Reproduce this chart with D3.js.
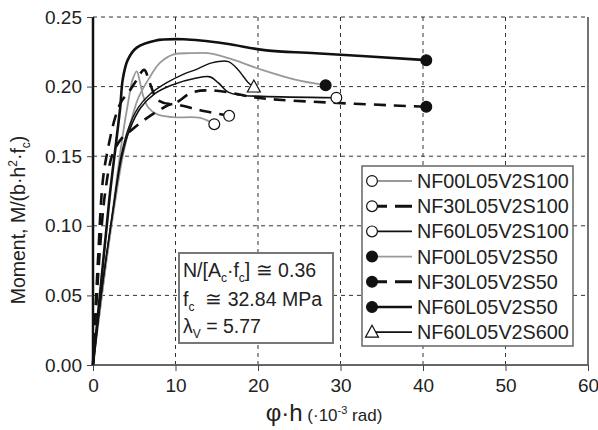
<!DOCTYPE html>
<html><head><meta charset="utf-8">
<script src="https://cdn.jsdelivr.net/npm/d3@7"></script>
<style>body{margin:0;background:#fff}svg{display:block}text{font-family:"Liberation Sans",Arial,sans-serif;fill:#222}</style>
</head><body><svg id="c" width="598" height="430"></svg>
<script>
// ---- data ----
const xTicks = [0,10,20,30,40,50,60];
const yTicks = [0.00,0.05,0.10,0.15,0.20,0.25];
const seriesNames = ["NF00L05V2S100","NF30L05V2S100","NF60L05V2S100","NF00L05V2S50","NF30L05V2S50","NF60L05V2S50","NF60L05V2S600"];
const nf00s100 = [[0,0],[1.5,0.07],[2.8,0.13],[3.6,0.165],[4.3,0.19],[4.8,0.205],[5.3,0.211],[5.7,0.203],[6.1,0.193],[6.7,0.185],[7.8,0.18],[9.7,0.178],[13,0.1775],[14.7,0.173]];
const nf30s100 = [[0,0],[0.8,0.08],[1.5,0.125],[2.4,0.152],[3.5,0.163],[4.5,0.168],[6.2,0.176],[8,0.183],[9.6,0.1875],[11,0.186],[13,0.183],[16.5,0.179]];
const nf60s100 = [[0,0],[1.2,0.06],[2.4,0.11],[3.5,0.15],[4.5,0.17],[5.8,0.185],[7.5,0.195],[9.5,0.201],[12.4,0.206],[14.2,0.207],[15.2,0.2026],[16.4,0.196],[17.6,0.194],[20.5,0.193],[29.5,0.192]];
const nf00s50 = [[0,0],[1.3,0.06],[2.5,0.11],[3.6,0.15],[4.6,0.175],[5.5,0.192],[6.7,0.205],[8.1,0.217],[9.7,0.223],[11.8,0.224],[13.9,0.224],[16.4,0.2205],[20.5,0.212],[24.5,0.205],[28.2,0.201]];
const nf30s50 = [[0,0],[0.6,0.075],[1.2,0.133],[1.8,0.155],[2.7,0.178],[3.5,0.19],[4.2,0.195],[5.1,0.203],[6.2,0.212],[6.8,0.204],[7.3,0.196],[7.7,0.191],[9.6,0.1875],[12.1,0.196],[15,0.197],[19.9,0.192],[23.9,0.19],[40.4,0.1855]];
const nf60s50 = [[0,0],[1.0,0.06],[2.0,0.12],[2.8,0.16],[3.3,0.185],[3.6,0.205],[4.2,0.219],[5.3,0.228],[7.5,0.233],[11,0.234],[16,0.231],[21,0.226],[27,0.224],[40.4,0.219]];
const nf60s600 = [[0,0],[1.2,0.06],[2.4,0.11],[3.4,0.15],[4.3,0.17],[5.5,0.185],[7,0.195],[9,0.203],[11,0.209],[12.4,0.212],[14.4,0.217],[16.4,0.218],[17.6,0.212],[18.8,0.203],[19.5,0.1997]];
const seriesData = [nf00s100,nf30s100,nf60s100,nf00s50,nf30s50,nf60s50,nf60s600];
const seriesColor = ["#999","#111","#111","#999","#111","#111","#111"];
const seriesWidth = [1.8,2.6,1.6,1.8,2.6,2.6,1.4];
const seriesDash = [null,"12,8",null,null,"12,8",null,null];
const seriesMarker = ["open","open","open","filled","filled","filled","triangle"];

const svg = d3.select("#c");
const x = d3.scaleLinear().domain([0,60]).range([93,588]);
const y = d3.scaleLinear().domain([0,0.25]).range([365,17]);

// grid
const g = svg.append("g");
g.selectAll(".vg").data(xTicks.filter(d=>d>0&&d<60)).enter().append("line")
 .attr("x1",d=>x(d)).attr("x2",d=>x(d)).attr("y1",y(0)).attr("y2",y(0.25))
 .attr("stroke","#333").attr("stroke-width",1).attr("stroke-dasharray","4,4");
g.selectAll(".hg").data(yTicks.filter(d=>d>0)).enter().append("line")
 .attr("x1",x(0)).attr("x2",x(60)).attr("y1",d=>y(d)).attr("y2",d=>y(d))
 .attr("stroke","#333").attr("stroke-width",1).attr("stroke-dasharray","4,4");

// curves
const line = d3.line().x(d=>x(d[0])).y(d=>y(d[1])).curve(d3.curveCatmullRom.alpha(0.5));
const order = [0,3,1,4,2,6,5];
order.forEach(i=>{
  svg.append("path").attr("d",line(seriesData[i])).attr("fill","none")
   .attr("stroke",seriesColor[i]).attr("stroke-width",seriesWidth[i])
   .attr("stroke-dasharray",seriesDash[i]).attr("stroke-linejoin","round");
});
function marker(sel,type,cx,cy){
  if(type==="triangle"){
    sel.append("path").attr("d",`M${cx},${cy-7}L${cx+6.5},${cy+5}L${cx-6.5},${cy+5}Z`)
     .attr("fill","#fff").attr("stroke","#111").attr("stroke-width",1.2);
  } else {
    sel.append("circle").attr("cx",cx).attr("cy",cy).attr("r",5.4)
     .attr("fill",type==="filled"?"#111":"#fff").attr("stroke","#111").attr("stroke-width",1.2);
  }
}
seriesData.forEach((s,i)=>{
  const p = s[s.length-1];
  marker(svg,seriesMarker[i],x(p[0]),y(p[1]));
});

// axes frame
svg.append("line").attr("x1",x(60)).attr("x2",x(60)).attr("y1",y(0)).attr("y2",y(0.25)).attr("stroke","#444").attr("stroke-width",1.5);
svg.append("line").attr("x1",x(0)).attr("x2",x(60)).attr("y1",y(0)).attr("y2",y(0)).attr("stroke","#666").attr("stroke-width",2);
svg.append("line").attr("x1",x(0)).attr("x2",x(0)).attr("y1",y(0)+1).attr("y2",y(0.25)).attr("stroke","#111").attr("stroke-width",2.5);

const xa = svg.append("g").attr("transform",`translate(0,${y(0)})`)
 .call(d3.axisBottom(x).tickValues(xTicks).tickSize(6).tickPadding(8).tickFormat(d3.format("d")));
xa.select(".domain").remove();
xa.selectAll("line").attr("stroke","#444");
xa.selectAll("text").style("font-size","19px").attr("fill","#222");
const ya = svg.append("g").attr("transform",`translate(${x(0)},0)`)
 .call(d3.axisLeft(y).tickValues(yTicks).tickSize(6).tickPadding(5).tickFormat(d3.format(".2f")));
ya.select(".domain").remove();
ya.selectAll("line").attr("stroke","#444");
ya.selectAll("text").style("font-size","19px").attr("fill","#222");

// axis titles
const yt = svg.append("text").attr("transform","translate(25,220) rotate(-90)").attr("text-anchor","middle").style("font-size","19.5px");
yt.append("tspan").text("Moment, M/(b·h");
yt.append("tspan").text("2").style("font-size","12px").attr("dy",-8);
yt.append("tspan").text("·f").attr("dy",8);
yt.append("tspan").text("c").style("font-size","12px").attr("dy",5);
yt.append("tspan").text(")").attr("dy",-5);

const xt = svg.append("text").attr("x",324).attr("y",421).attr("text-anchor","middle");
xt.append("tspan").text("φ·h").style("font-size","24px");
xt.append("tspan").text(" (·10").style("font-size","17px");
xt.append("tspan").text("-3").style("font-size","11px").attr("dy",-7);
xt.append("tspan").text(" rad)").style("font-size","17px").attr("dy",7);

// legend
const lg = svg.append("g");
lg.append("rect").attr("x",362).attr("y",166).attr("width",211).attr("height",180).attr("fill","#fff").attr("stroke","#666").attr("stroke-width",1.5);
seriesNames.forEach((n,i)=>{
  const cy = 181 + i*25.2;
  lg.append("line").attr("x1",372).attr("x2",412).attr("y1",cy).attr("y2",cy)
   .attr("stroke",seriesColor[i]).attr("stroke-width",seriesDash[i]?3:(i===5?2.4:1.8))
   .attr("stroke-dasharray",seriesDash[i]?"0,5,10,8,12":null);
  marker(lg,seriesMarker[i],372,cy);
  lg.append("text").attr("x",417).attr("y",cy+7).text(n).style("font-size","19.8px");
});

// annotation
const an = svg.append("g");
an.append("rect").attr("x",179).attr("y",253).attr("width",154).attr("height",90).attr("fill","#fff").attr("stroke","#777").attr("stroke-width",2);
const t1 = an.append("text").attr("x",183).attr("y",277).style("font-size","19.5px");
t1.append("tspan").text("N/[A");
t1.append("tspan").text("c").style("font-size","12px").attr("dy",5);
t1.append("tspan").text("·f").attr("dy",-5);
t1.append("tspan").text("c").style("font-size","12px").attr("dy",5);
t1.append("tspan").text("] ≅ 0.36").attr("dy",-5);
const t2 = an.append("text").attr("x",183).attr("y",306).style("font-size","19.5px");
t2.append("tspan").text("f");
t2.append("tspan").text("c").style("font-size","12px").attr("dy",5);
t2.append("tspan").text("\u00a0 ≅ 32.84 MPa").attr("dy",-5);
const t3 = an.append("text").attr("x",183).attr("y",333).style("font-size","19.5px");
t3.append("tspan").text("λ");
t3.append("tspan").text("V").style("font-size","12px").attr("dy",5);
t3.append("tspan").text(" = 5.77").attr("dy",-5);
</script></body></html>
